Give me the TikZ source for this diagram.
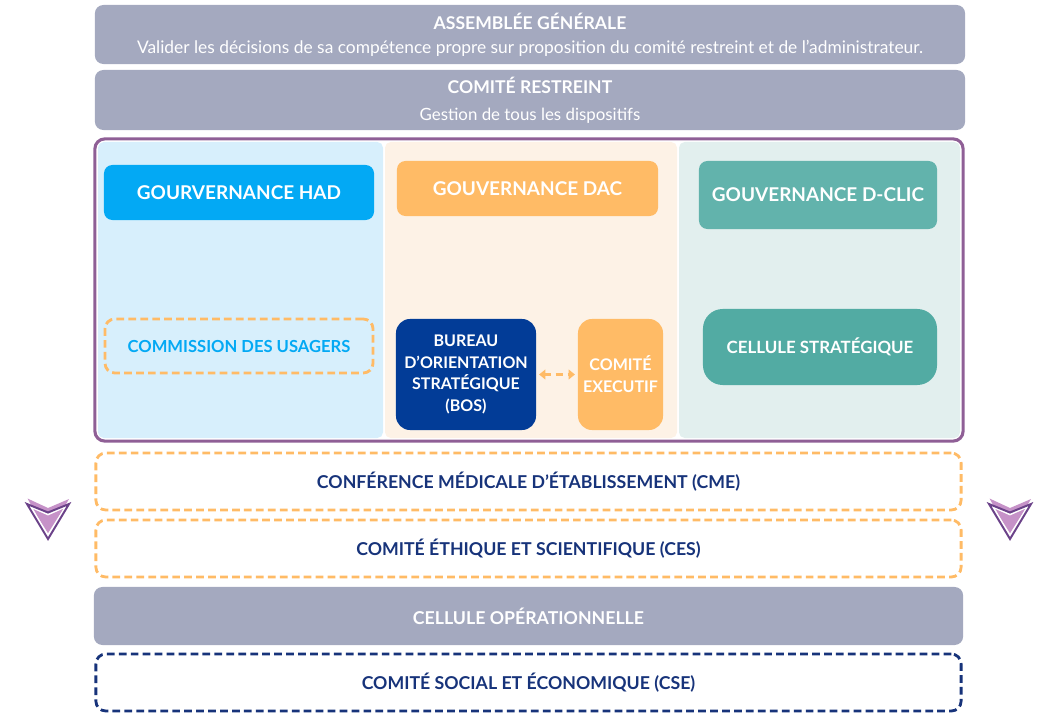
\documentclass[tikz,border=0pt]{standalone}
\usepackage{fontspec}
\setmainfont{Lato}
\usepackage{tikz}
\usetikzlibrary{arrows.meta,fit,positioning}
\definecolor{BoardGrey}{HTML}{A4A9BF}
\definecolor{FramePurple}{HTML}{8F5F96}
\definecolor{HadBlue}{HTML}{03A9F4}
\definecolor{HadSoft}{HTML}{D7EFFC}
\definecolor{DacOrange}{HTML}{FFBB66}
\definecolor{DacSoft}{HTML}{FDF2E6}
\definecolor{ClicTeal}{HTML}{62B3AC}
\definecolor{ClicDeep}{HTML}{52ABA3}
\definecolor{ClicSoft}{HTML}{E2EFEE}
\definecolor{BosBlue}{HTML}{023C97}
\definecolor{NavyInk}{HTML}{17337A}
\definecolor{MarkLilac}{HTML}{C692C8}
\definecolor{MarkPurple}{HTML}{6B4289}
\tikzset{
  boxbase/.style={
    inner sep=0pt,
    rounded corners=6pt
  },
  boardbox/.style={boxbase, fill=BoardGrey, text=white},
  panelbox/.style={boxbase, rounded corners=4pt},
  govbox/.style={
    boxbase,
    text=white,
    font=\bfseries\fontsize{13.5}{16}\selectfont
  },
  subbox/.style={
    boxbase,
    align=center,
    text=white,
    rounded corners=10pt,
    font=\bfseries\fontsize{11.4}{15.6}\selectfont
  },
  dashbox/.style={
    boxbase,
    draw=DacOrange,
    line width=2pt,
    dash pattern=on 5.5pt off 3pt,
    rounded corners=7pt
  },
  rowbox/.style={
    dashbox,
    minimum width=21.625cm,
    minimum height=1.425cm,
    text=NavyInk,
    font=\bfseries\fontsize{12.6}{14}\selectfont
  },
  linkarrow/.style={
    {Triangle[length=4.5pt,width=7pt]}-{Triangle[length=4.5pt,width=7pt]},
    draw=DacOrange,
    line width=2.2pt,
    dash pattern=on 5pt off 3.5pt,
    dash phase=1pt,
    shorten <=2pt,
    shorten >=2pt
  }
}

\begin{document}
\begin{tikzpicture}[x=0.025cm, y=-0.025cm]
  \useasboundingbox (0,0) rectangle (1052,722);

  % conseil
  \node[boardbox, align=center, minimum width=21.75cm, minimum height=1.475cm] (ag) at (530,34.5)
    {{\bfseries\fontsize{12.5}{15}\selectfont ASSEMBLÉE GÉNÉRALE}\\[5pt]
     {\fontsize{12.35}{14}\selectfont Valider les décisions de sa compétence propre sur proposition du comité restreint et de l'administrateur.}};
  \node[boardbox, align=center, minimum width=21.75cm, minimum height=1.5cm] (cr) at (530,100)
    {{\bfseries\fontsize{12.5}{15}\selectfont COMITÉ RESTREINT}\\[7.5pt]
     {\fontsize{12}{14}\selectfont Gestion de tous les dispositifs}};

  % trois dispositifs
  \node[panelbox, fill=HadSoft, fit={(98,142) (383,438)}] (hadcol) {};
  \node[panelbox, fill=DacSoft, fit={(385,142) (677,438)}] (daccol) {};
  \node[panelbox, fill=ClicSoft, fit={(679,142) (960,438)}] (cliccol) {};
  \node[draw=FramePurple, line width=2.2pt, rounded corners=7pt, inner sep=2pt,
        fit=(hadcol) (cliccol)] (frame) {};

  \node[govbox, fill=HadBlue, minimum width=6.75cm, minimum height=1.375cm] (had) at (239,192.5)
    {GOURVERNANCE HAD};
  \node[govbox, fill=DacOrange, minimum width=6.525cm, minimum height=1.375cm] (dac) at (527.5,188.5)
    {GOUVERNANCE DAC};
  \node[govbox, fill=ClicTeal, minimum width=5.95cm, minimum height=1.7cm] (clic) at (818,195)
    {GOUVERNANCE D-CLIC};

  \node[dashbox, text=HadBlue, font=\bfseries\fontsize{11.8}{14}\selectfont,
        minimum width=6.7cm, minimum height=1.35cm] (usagers) at (239,346) {COMMISSION DES USAGERS};
  \node[subbox, fill=BosBlue, minimum width=3.5cm, minimum height=2.775cm] (bos) at (466,374.5)
    {BUREAU\\D'ORIENTATION\\STRATÉGIQUE\\(BOS)};
  \node[subbox, fill=DacOrange, minimum width=2.125cm, minimum height=2.775cm] (exec) at (620.5,374.5)
    {COMITÉ\\EXECUTIF};
  \node[boxbase, text=white, fill=ClicDeep, rounded corners=14pt, font=\bfseries\fontsize{12}{14}\selectfont,
        minimum width=5.85cm, minimum height=1.9cm] (strat) at (820,347) {CELLULE STRATÉGIQUE};
  \draw[linkarrow] (bos) -- (exec);

  % instances transverses
  \node[rowbox] (cme) at (528.5,481.5) {CONFÉRENCE MÉDICALE D'ÉTABLISSEMENT (CME)};
  \node[rowbox] (ces) at (528.5,548.5) {COMITÉ ÉTHIQUE ET SCIENTIFIQUE (CES)};
  \node[boardbox, font=\bfseries\fontsize{12.6}{14}\selectfont,
        minimum width=21.725cm, minimum height=1.45cm] (op) at (528.5,616)
    {CELLULE OPÉRATIONNELLE};
  \node[rowbox, draw=NavyInk] (cse) at (528.5,682.5) {COMITÉ SOCIAL ET ÉCONOMIQUE (CSE)};

  % marqueurs
  \foreach \mx in {48,1010} {
    \fill[MarkLilac] (\mx-20.5,498.5) -- (\mx,508) -- (\mx+21,499) -- (\mx,535) -- cycle;
    \draw[white, line width=1.2pt, line join=miter] (\mx-18,506.5) -- (\mx,514.5) -- (\mx+18,506.5) -- (\mx,535) -- cycle;
    \draw[MarkPurple, line width=1.4pt, line join=miter] (\mx-21,504) -- (\mx,512.5) -- (\mx+21,504) -- (\mx,539) -- cycle;
  }
\end{tikzpicture}
\end{document}
